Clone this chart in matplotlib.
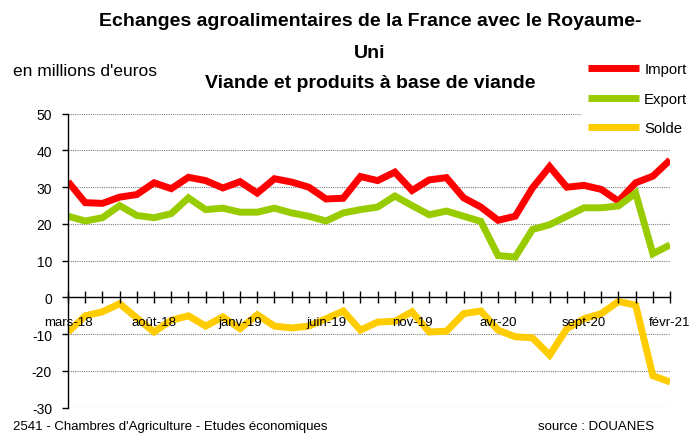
import matplotlib
matplotlib.use("Agg")
import matplotlib.pyplot as plt
import numpy as np

plt.rcParams['font.family'] = ['Liberation Sans', 'DejaVu Sans']
plt.rcParams['axes.unicode_minus'] = False

# Monthly data, mars-18 .. févr-21 (millions d'euros)
months = ["mars-18", "avr-18", "mai-18", "juin-18", "juil-18", "août-18",
          "sept-18", "oct-18", "nov-18", "déc-18", "janv-19", "févr-19",
          "mars-19", "avr-19", "mai-19", "juin-19", "juil-19", "août-19",
          "sept-19", "oct-19", "nov-19", "déc-19", "janv-20", "févr-20",
          "mars-20", "avr-20", "mai-20", "juin-20", "juil-20", "août-20",
          "sept-20", "oct-20", "nov-20", "déc-20", "janv-21", "févr-21"]

imports = [31.5, 25.8, 25.6, 27.3, 28.0, 31.2, 29.6, 32.7, 31.8, 29.8, 31.5, 28.4,
           32.3, 31.4, 30.0, 26.8, 27.0, 32.9, 31.8, 34.1, 29.1, 32.0, 32.6, 27.1,
           24.6, 21.0, 22.1, 29.8, 35.6, 30.0, 30.5, 29.4, 26.2, 31.2, 33.0, 37.4]

exports = [22.1, 20.8, 21.7, 25.0, 22.3, 21.7, 22.8, 27.1, 23.9, 24.3, 23.2, 23.2,
           24.3, 23.0, 22.1, 20.8, 23.0, 23.9, 24.6, 27.6, 25.0, 22.5, 23.5, 22.1,
           20.7, 11.4, 11.0, 18.5, 19.8, 22.1, 24.4, 24.4, 24.9, 28.4, 11.9, 14.3]

solde = [-9.4, -5.0, -3.9, -1.7, -5.6, -9.4, -6.2, -5.0, -7.8, -5.3, -8.5, -4.7,
         -7.8, -8.3, -7.8, -5.8, -3.7, -8.9, -6.7, -6.5, -3.9, -9.4, -9.2, -4.4,
         -3.7, -8.9, -10.7, -11.0, -15.7, -8.5, -5.8, -4.4, -1.1, -2.1, -21.3, -23.0]

series = [("Import", imports, "#ff0000"),
          ("Export", exports, "#99cc00"),
          ("Solde", solde, "#ffcc00")]

title_lines = ["Echanges agroalimentaires de la France avec le Royaume-",
               "Uni",
               "Viande et produits à base de viande"]

fig = plt.figure(figsize=(6.9, 4.35), dpi=100)
ax = fig.add_axes([0.0986, 0.0605, 0.8725, 0.6758])

x = np.arange(len(months))
handles = []
for name, vals, col in series:
    h, = ax.plot(x, vals, color=col, lw=5, label=name, zorder=2,
                 solid_joinstyle='miter', solid_capstyle='butt')
    handles.append(h)

ax.set_xlim(0, len(months) - 1)
ax.set_ylim(-30, 50)
ax.set_yticks(range(-30, 51, 10))
ax.set_axisbelow(False)  # tick labels above the lines, as in the original

# gridlines except at zero (zero is the axis line)
for v in range(-30, 51, 10):
    if v != 0:
        ax.axhline(v, color='#7f7f7f', lw=0.8, ls=(0, (1, 1)), zorder=0)

ax.spines['top'].set_visible(False)
ax.spines['right'].set_visible(False)
ax.spines['bottom'].set_position(('data', 0))
ax.spines['bottom'].set_linewidth(1.0)
ax.spines['left'].set_linewidth(1.0)

ax.set_xticks(x)
ax.set_xticklabels([m if i % 5 == 0 else "" for i, m in enumerate(months)])
ax.tick_params(axis='x', direction='inout', length=8.6, width=1.0, pad=9.0,
               labelsize=9.5)
ax.tick_params(axis='y', direction='out', length=4.5, width=1.0, pad=7,
               labelsize=10)

leg = fig.legend(handles=handles, loc='upper left',
                 bbox_to_anchor=(581 / 690, 1 - 56 / 435),
                 fontsize=10.7, frameon=True, fancybox=False,
                 handlelength=3.4, handletextpad=0.35, labelspacing=1.03,
                 borderpad=0.5, borderaxespad=0)
leg.get_frame().set_edgecolor('white')
leg.get_frame().set_facecolor('white')
leg.get_frame().set_alpha(1)

for line, ypix in zip(title_lines, [22, 53, 83]):
    fig.text(370 / 690, 1 - ypix / 435, line, ha='center', va='center',
             fontsize=14, fontweight='bold')
fig.text(13 / 690, 1 - 72 / 435, "en millions d'euros", ha='left', va='center',
         fontsize=12.5)
fig.text(13 / 690, 1 - 427 / 435,
         "2541 - Chambres d'Agriculture - Etudes économiques",
         ha='left', va='center', fontsize=9.5)
fig.text(538 / 690, 1 - 427 / 435, "source : DOUANES", ha='left', va='center',
         fontsize=9.5)

fig.savefig("out.png", dpi=100)
